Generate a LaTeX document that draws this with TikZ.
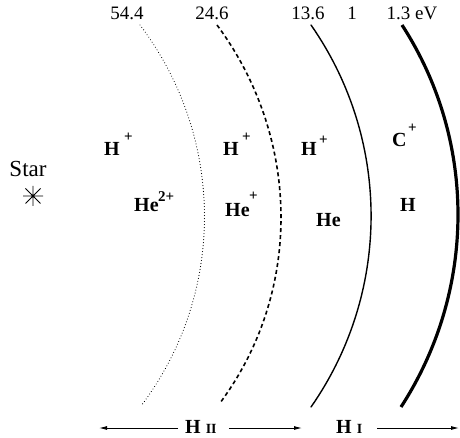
\documentclass[tikz,border=0pt]{standalone}
\usepackage{fontspec}
\setmainfont{Liberation Serif}
\usetikzlibrary{arrows.meta,calc}
\begin{document}
\begin{tikzpicture}[x=1pt,y=-1pt,
  num/.style={inner sep=0pt,anchor=base,font=\fontsize{19}{19}\selectfont},
  ion/.style={inner sep=0pt,anchor=base west,font=\fontsize{20}{20}\selectfont\bfseries},
  sup/.style={inner sep=0pt,anchor=base west,font=\fontsize{15}{15}\selectfont\bfseries},
  zone/.style={inner sep=0pt,anchor=base west,font=\fontsize{20}{20}\selectfont\bfseries},
  arr/.style={line width=0.9pt,-{Latex[length=8pt,width=4pt]}},
  front/.style={line cap=round}]
\useasboundingbox (0,0) rectangle (460,438);
% energy labels
\node[num] (e1) at (127,20) {54.4};
\node[num] (e2) at (212,20) {24.6};
\node[num] (e3) at (308,20) {13.6};
\node[num] (e4) at (352,20) {1};
\node[num] (e5) at (412,20) {1.3 eV};
% fronts
\draw[front,line width=1.1pt,dash pattern=on 0.01pt off 3pt] (140,25) .. controls (225.3,137.6) and (226.3,293.4) .. (141,406);
\draw[front,line width=1.6pt,dash pattern=on 4pt off 3pt,line cap=butt] (217,25) .. controls (300.3,137.3) and (303.3,290.7) .. (220,403);
\draw[front,line width=1.4pt] (311,25) .. controls (391.1,139.8) and (391.1,292.2) .. (311,407);
\draw[front,line width=3.2pt,line cap=butt] (402,25) .. controls (477.3,141.2) and (476.3,290.8) .. (401,407);
% star
\node[inner sep=0pt,anchor=base,font=\fontsize{23}{23}\selectfont] (star) at (28,177) {Star};
\coordinate (sc) at (33,196);
\draw[line width=0.8pt] ($(sc)+(-10,0)$) -- ($(sc)+(10,0)$)
  ($(sc)+(0,-10)$) -- ($(sc)+(0,10)$)
  ($(sc)+(-7.5,-7.5)$) -- ($(sc)+(7.5,7.5)$)
  ($(sc)+(-7.5,7.5)$) -- ($(sc)+(7.5,-7.5)$);
% ions
\node[ion] (h1) at (104,156) {H};
\node[sup] (h1s) at (124,142) {+};
\node[ion] (he1) at (134,212) {He};
\node[sup] (he1s) at (158,202) {2+};
\node[ion] (h2) at (223,156) {H};
\node[sup] (h2s) at (242,142) {+};
\node[ion] (he2) at (225,217) {He};
\node[sup] (he2s) at (249,201) {+};
\node[ion] (h3) at (301,156) {H};
\node[sup] (h3s) at (319,145) {+};
\node[ion] (he3) at (316,227) {He};
\node[ion] (c4) at (392,147) {C};
\node[sup] (c4s) at (408,133) {+};
\node[ion] (h4) at (400,212) {H};
% zones
\node[zone] (HII) at (185,433) {H {\fontsize{14}{14}\selectfont II}};
\node[zone] (HI) at (336,433) {H {\fontsize{14}{14}\selectfont I}};
\coordinate (L) at (99,428);
\coordinate (R) at (459,428);
\draw[arr] ($(HII.west|-L)+(-7,0)$) -- (L);
\draw[arr] ($(HII.east|-L)+(12,0)$) -- ($(HI.west|-L)+(-34,0)$);
\draw[arr] ($(HI.east|-L)+(15,0)$) -- (R);
\end{tikzpicture}
\end{document}
